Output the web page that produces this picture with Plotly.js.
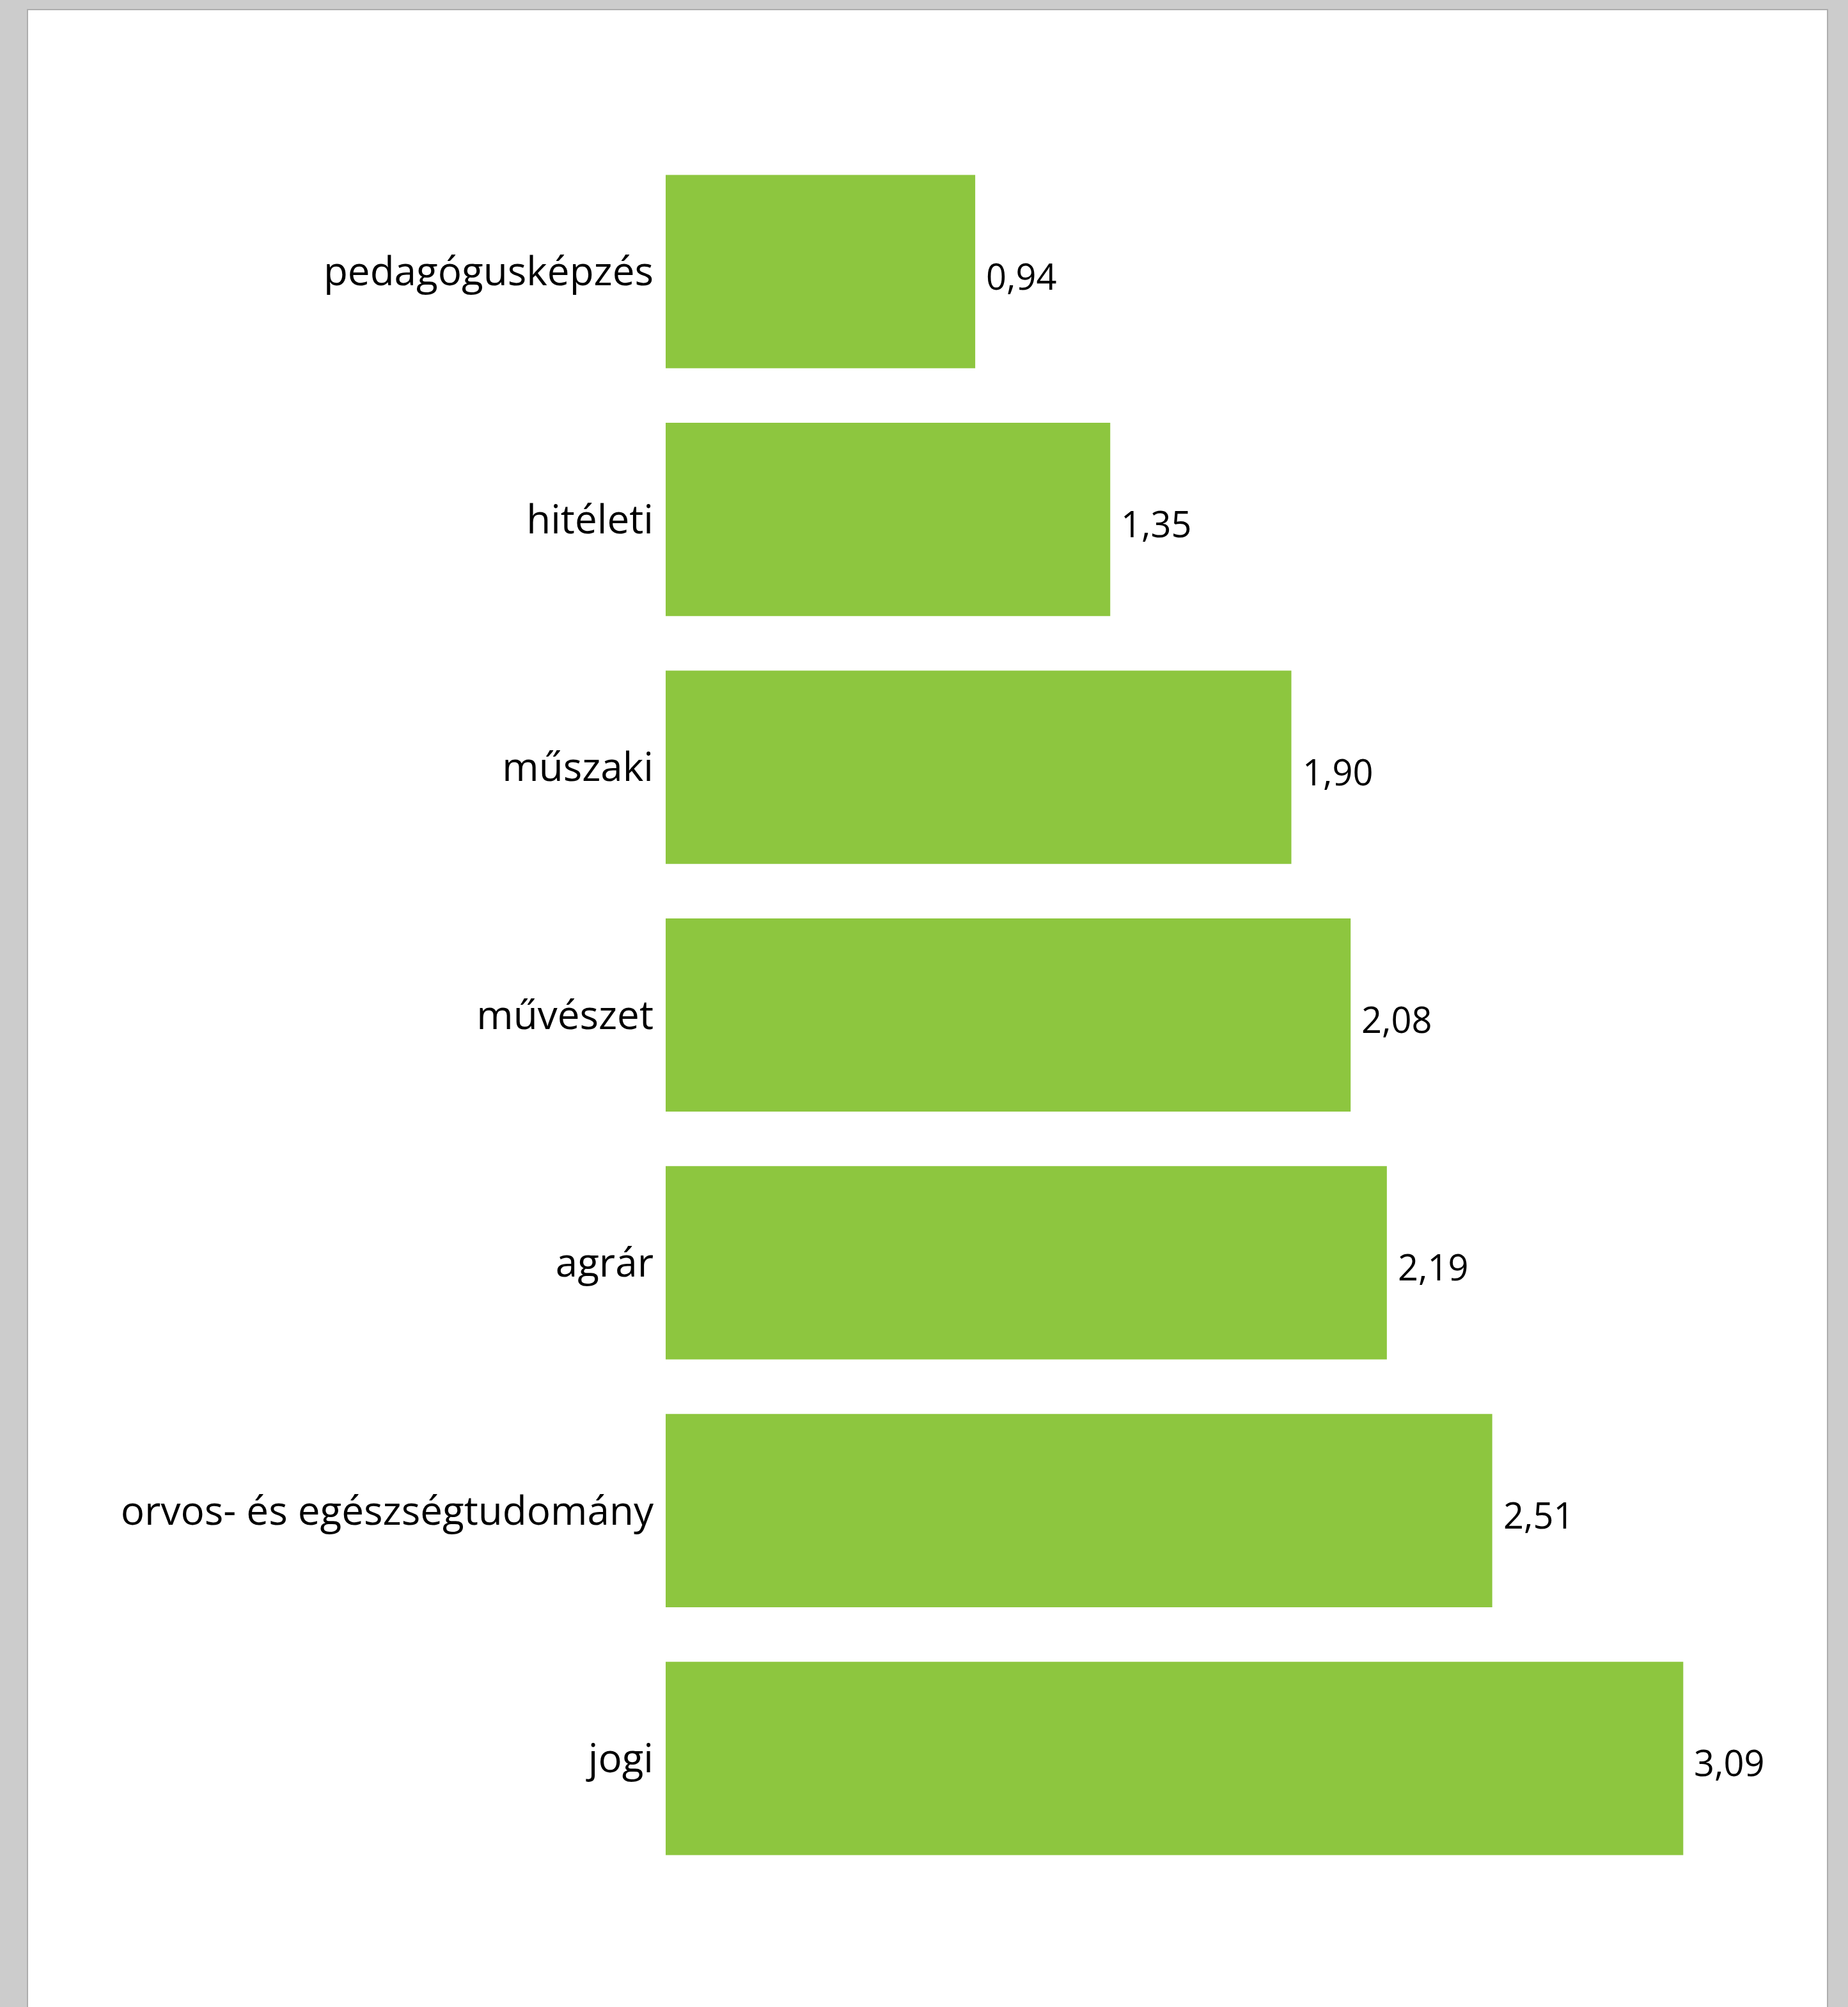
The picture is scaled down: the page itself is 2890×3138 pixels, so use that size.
<!DOCTYPE html>
<html>
<head>
<meta charset="utf-8">
<script src="https://cdn.plot.ly/plotly-3.0.1.min.js"></script>
<style>
  html, body { margin: 0; padding: 0; background: #cccccc; width: 2890px; height: 3138px; overflow: hidden; }
  #page { position: absolute; left: 42px; top: 14px; width: 2813px; height: 3140px; background: #ffffff; border: 2px solid #adadad; }
  #chart { position: absolute; left: 0; top: 0; width: 2890px; height: 3138px; }
</style>
</head>
<body>
<div id="page"></div>
<div id="chart"></div>
<script>
const categories = ["pedagógusképzés", "hitéleti", "műszaki", "művészet", "agrár", "orvos- és egészségtudomány", "jogi"];
const values = [0.94, 1.35, 1.90, 2.08, 2.19, 2.51, 3.09];
const valueLabels = ["0,94", "1,35", "1,90", "2,08", "2,19", "2,51", "3,09"];

const FONT = '"Open Sans", "Noto Sans", "DejaVu Sans", sans-serif';

const trace = {
  type: 'bar',
  orientation: 'h',
  x: values,
  y: categories,
  marker: { color: '#8DC63F', line: { width: 0 } },
  hoverinfo: 'none'
};

const annotations = values.map((v, i) => ({
  x: v, y: categories[i], xref: 'x', yref: 'y',
  text: valueLabels[i], showarrow: false,
  xanchor: 'left', yanchor: 'middle', xshift: 15, yshift: -6,
  font: { family: FONT, size: 56, color: '#000000' }
}));

const layout = {
  width: 2890, height: 3138,
  paper_bgcolor: 'rgba(0,0,0,0)',
  plot_bgcolor: 'rgba(0,0,0,0)',
  margin: { l: 1041, r: 98, t: 231, b: 195 },
  bargap: 0.22,
  showlegend: false,
  xaxis: { range: [0, 3.4], showgrid: false, zeroline: false, showline: false, showticklabels: false, ticks: '' },
  yaxis: {
    type: 'category', categoryorder: 'array', categoryarray: categories,
    autorange: 'reversed', showgrid: false, zeroline: false, showline: false, ticks: '',
    ticklabelstandoff: 18,
    tickfont: { family: FONT, size: 62, color: '#000000' }
  },
  annotations: annotations
};

Plotly.newPlot('chart', [trace], layout, { staticPlot: true, displayModeBar: false });
</script>
</body>
</html>
